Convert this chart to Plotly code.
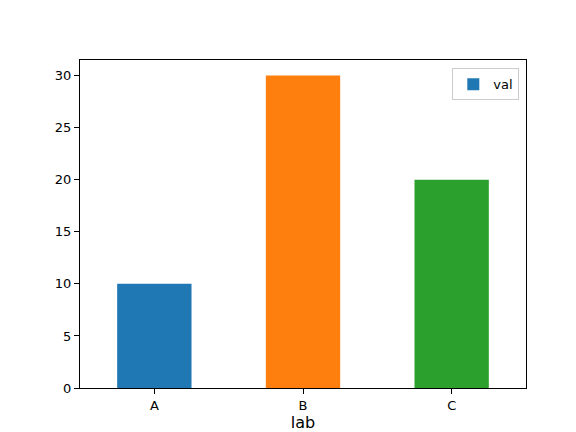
import plotly.graph_objects as go

labels = ["A", "B", "C"]
values = [10, 30, 20]
colors = ["#1f77b4", "#ff7f0e", "#2ca02c"]

fig = go.Figure()
fig.add_trace(
    go.Bar(
        x=labels,
        y=values,
        name="val",
        width=0.5,
        marker={"color": colors, "line": {"width": 0}},
        showlegend=True,
    )
)

axis_style = dict(
    showline=True,
    linecolor="black",
    linewidth=1,
    mirror=True,
    ticks="outside",
    ticklen=5,
    tickcolor="black",
    showgrid=False,
    zeroline=False,
)

fig.update_layout(
    width=576,
    height=432,
    margin={"l": 72, "r": 58, "t": 52, "b": 48},
    plot_bgcolor="white",
    paper_bgcolor="white",
    font={"family": "DejaVu Sans", "size": 13, "color": "black"},
    xaxis=dict(axis_style, title={"text": "lab", "standoff": 4}, range=[-0.5, 2.5]),
    yaxis=dict(axis_style, range=[0, 31.5], dtick=5),
    legend={
        "x": 0.985,
        "y": 0.975,
        "xanchor": "right",
        "yanchor": "top",
        "bordercolor": "#cccccc",
        "borderwidth": 1,
        "bgcolor": "white",
    },
)

fig.write_html("out.html")
